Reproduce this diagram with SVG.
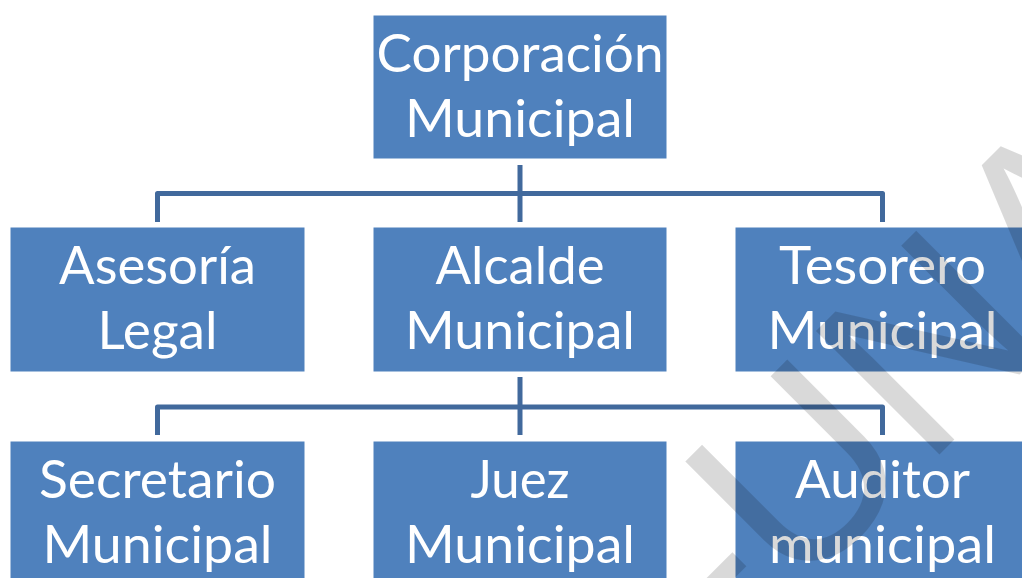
<svg xmlns="http://www.w3.org/2000/svg" width="1022" height="578" viewBox="0 0 1022 578">
<style>
.box{fill:#4F81BD;stroke:#ffffff;stroke-width:1}
.lbl{font-family:Lato,"Liberation Sans",sans-serif;font-size:52px;fill:#ffffff;text-anchor:middle}
.conn{fill:none;stroke:#41699C;stroke-width:5;stroke-linejoin:round}
.wm{font-family:"Liberation Sans",Arial,sans-serif;font-size:254px;fill:#000000;fill-opacity:0.15}
</style>
<rect width="1022" height="578" fill="#ffffff"/>
<g id="connectors">
<path class="conn" d="M520,165 V222"/>
<path class="conn" d="M157.5,222 V193.5 H882.5 V222"/>
<path class="conn" d="M520,377 V435"/>
<path class="conn" d="M157.5,435 V407 H882.5 V435"/>
</g>
<g id="corporacion">
<rect class="box" x="373" y="15" width="294" height="144"/>
<text class="lbl" x="520" y="72" textLength="287" lengthAdjust="spacingAndGlyphs">Corporación</text>
<text class="lbl" x="520" y="136.5" textLength="230" lengthAdjust="spacingAndGlyphs">Municipal</text>
</g>
<g id="asesoria">
<rect class="box" x="10" y="227" width="295" height="145"/>
<text class="lbl" x="157.5" y="284" textLength="197" lengthAdjust="spacingAndGlyphs">Asesoría</text>
<text class="lbl" x="157.5" y="348.5" textLength="120" lengthAdjust="spacingAndGlyphs">Legal</text>
</g>
<g id="alcalde">
<rect class="box" x="373" y="227" width="294" height="145"/>
<text class="lbl" x="520" y="284" textLength="169" lengthAdjust="spacingAndGlyphs">Alcalde</text>
<text class="lbl" x="520" y="348.5" textLength="230" lengthAdjust="spacingAndGlyphs">Municipal</text>
</g>
<g id="tesorero">
<rect class="box" x="735" y="227" width="295" height="145"/>
<text class="lbl" x="882.5" y="284" textLength="207" lengthAdjust="spacingAndGlyphs">Tesorero</text>
<text class="lbl" x="882.5" y="348.5" textLength="230" lengthAdjust="spacingAndGlyphs">Municipal</text>
</g>
<g id="secretario">
<rect class="box" x="10" y="441" width="295" height="145"/>
<text class="lbl" x="157.5" y="498" textLength="237" lengthAdjust="spacingAndGlyphs">Secretario</text>
<text class="lbl" x="157.5" y="562.5" textLength="230" lengthAdjust="spacingAndGlyphs">Municipal</text>
</g>
<g id="juez">
<rect class="box" x="373" y="441" width="294" height="145"/>
<text class="lbl" x="520" y="498" textLength="99" lengthAdjust="spacingAndGlyphs">Juez</text>
<text class="lbl" x="520" y="562.5" textLength="230" lengthAdjust="spacingAndGlyphs">Municipal</text>
</g>
<g id="auditor">
<rect class="box" x="735" y="441" width="295" height="145"/>
<text class="lbl" x="882.5" y="498" textLength="175" lengthAdjust="spacingAndGlyphs">Auditor</text>
<text class="lbl" x="882.5" y="562.5" textLength="227" lengthAdjust="spacingAndGlyphs">municipal</text>
</g>
<g id="watermark">
<text class="wm" transform="translate(795,599) rotate(-45)" x="-84.6" y="0">-UNA</text>
</g>
</svg>
